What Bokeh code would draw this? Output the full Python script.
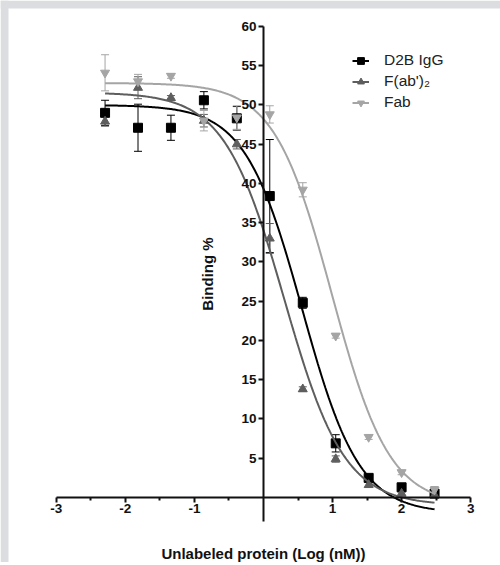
import numpy as np
from bokeh.plotting import figure
from bokeh.models import (Range1d, FixedTicker, ColumnDataSource, Whisker, TeeHead,
                          Legend, LegendItem, PrintfTickFormatter, BoxAnnotation, Label)
from bokeh.embed import file_html
from bokeh.resources import INLINE

# ---------------- data ----------------
log_conc = [-2.294, -1.817, -1.340, -0.863, -0.386, 0.091, 0.569, 1.046, 1.523, 2.000, 2.477]

d2b_binding = [49.0, 47.1, 47.1, 50.6, 48.3, 38.4, 24.8, 6.9, 2.5, 1.3, 0.5]
d2b_sem = [1.6, 3.0, 1.6, 1.1, 1.5, 7.2, 0.7, 1.1, 0.3, 0.3, 0.3]

fab2_binding = [47.9, 52.2, 50.9, 48.0, 45.0, 33.0, 13.8, 4.9, 1.6, 0.5, 0.3]
fab2_sem = [0.6, 1.4, 0.3, 0.8, 0.6, 1.9, 0.3, 0.4, 0.3, 0.2, 0.2]

fab_binding = [54.1, 53.0, 53.7, 48.0, 48.4, 48.8, 39.2, 20.6, 7.7, 3.2, 1.0]
fab_sem = [2.3, 0.9, 0.3, 1.3, 1.5, 1.1, 0.9, 0.3, 0.3, 0.3, 0.4]

series_names = ["D2B IgG", "F(ab')\u2082", "Fab"]

# fitted 4-parameter logistic curves: top, bottom, logIC50, hill slope
d2b_fit = [50.0, -2.0, 0.56, 1.05]
fab2_fit = [51.6, -1.0, 0.30, 1.0]
fab_fit = [52.8, -1.0, 0.99, 1.04]

y_tick_values = [5, 10, 15, 20, 25, 30, 35, 40, 45, 50, 55, 60]
x_tick_values = [-3, -2, -1, 1, 2, 3]
x_minor_values = [-2.5, -1.5, -0.5, 0.5, 1.5, 2.5]

x_label = "Unlabeled protein (Log (nM))"
y_label = "Binding %"

# ---------------- styling / layout ----------------
FONT = "Liberation Sans"
GREY_BG = "#dcdde0"
colors = ["#000000", "#5e5e5e", "#a5a5a5"]
markers = ["square", "triangle", "inverted_triangle"]

W, H = 500, 562
X_LO, X_HI = -3.808, 3.432          # whole canvas is the plotting frame
Y_LO, Y_HI = -8.28, 63.31
PX_PER_X = W / (X_HI - X_LO)
PX_PER_Y = H / (Y_HI - Y_LO)

p = figure(width=W, height=H, output_backend="svg", toolbar_location=None,
           x_range=Range1d(X_LO, X_HI), y_range=Range1d(Y_LO, Y_HI),
           min_border=0, min_border_left=0, min_border_right=0,
           min_border_top=0, min_border_bottom=0, title=None)
p.background_fill_color = "white"
p.border_fill_color = "white"
p.outline_line_color = None
p.xgrid.visible = False
p.ygrid.visible = False

# grey page strips (top and left), 8 px wide
p.add_layout(BoxAnnotation(right=X_LO + 8 / PX_PER_X, fill_color=GREY_BG, fill_alpha=1,
                           line_color=None, level="underlay"))
p.add_layout(BoxAnnotation(bottom=Y_HI - 8 / PX_PER_Y, fill_color=GREY_BG, fill_alpha=1,
                           line_color=None, level="underlay"))

xa = p.xaxis[0]
ya = p.yaxis[0]
xa.fixed_location = 0
ya.fixed_location = 0
xa.bounds = (-3, 3)
ya.bounds = (-3.1, 60)
xa.ticker = FixedTicker(ticks=x_tick_values, minor_ticks=x_minor_values)
ya.ticker = FixedTicker(ticks=y_tick_values)
xa.formatter = PrintfTickFormatter(format="%d")
ya.formatter = PrintfTickFormatter(format="%d")
for ax in (xa, ya):
    ax.axis_line_width = 2
    ax.axis_line_color = "#111111"
    ax.major_tick_line_width = 2
    ax.major_tick_line_color = "#111111"
    ax.minor_tick_line_width = 2
    ax.minor_tick_line_color = "#111111"
    ax.major_tick_in = 0
    ax.major_tick_out = 5
    ax.minor_tick_in = 0
    ax.minor_tick_out = 3
    ax.major_label_text_font = FONT
    ax.major_label_text_font_style = "bold"
    ax.major_label_text_font_size = "13.5px"
    ax.major_label_text_color = "#111111"
    ax.major_label_standoff = 2
    ax.axis_label_text_font = FONT
    ax.axis_label_text_font_style = "bold"
    ax.axis_label_text_font_size = "15px"
    ax.axis_label_text_color = "#111111"
ya.minor_tick_out = 0
ya.axis_label = y_label
ya.axis_label_standoff = 22

p.add_layout(Label(x=0, y=-7.13, text=x_label, text_align="center",
                   text_baseline="middle", text_font=FONT, text_font_style="bold",
                   text_font_size="15px", text_color="#111111"))


def four_pl(xs, params):
    top, bottom, c, h = params
    return bottom + (top - bottom) / (1.0 + 10.0 ** ((xs - c) * h))


curve_x = np.linspace(log_conc[0], log_conc[-1], 300)
all_binding = [d2b_binding, fab2_binding, fab_binding]
all_sem = [d2b_sem, fab2_sem, fab_sem]
all_fit = [d2b_fit, fab2_fit, fab_fit]

items = []
for name, ys, errs, fit, col, mk in zip(series_names, all_binding, all_sem, all_fit,
                                         colors, markers):
    src = ColumnDataSource(dict(
        x=log_conc, y=ys,
        upper=[v + e for v, e in zip(ys, errs)],
        lower=[v - e for v, e in zip(ys, errs)],
    ))
    wh = Whisker(source=src, base="x", upper="upper", lower="lower",
                 line_color=col, line_width=1,
                 upper_head=TeeHead(size=8, line_color=col, line_width=1),
                 lower_head=TeeHead(size=8, line_color=col, line_width=1))
    p.add_layout(wh)
    lr = p.line(curve_x, four_pl(curve_x, fit), line_color=col, line_width=2)
    sr = p.scatter("x", "y", source=src, marker=mk, size=9,
                   fill_color=col, line_color=col)
    items.append(LegendItem(label=name, renderers=[lr, sr]))

legend = Legend(items=items, location=(352, H - 112.5), orientation="vertical",
                border_line_color=None, background_fill_alpha=0,
                padding=0, margin=0, spacing=0,
                glyph_width=17, glyph_height=21, label_height=21,
                label_standoff=15, label_text_font=FONT,
                label_text_font_size="15.5px", label_text_color="#222222")
p.add_layout(legend)

open("out.html", "w").write(file_html(p, INLINE))
